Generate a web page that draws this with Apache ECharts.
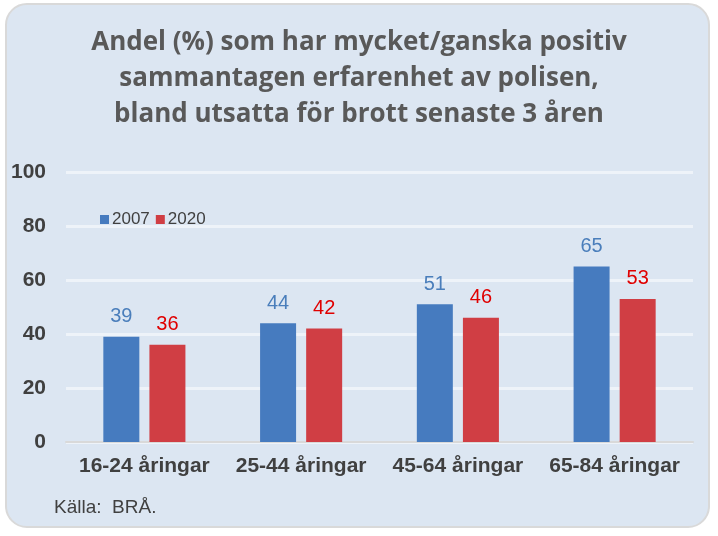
<!DOCTYPE html>
<html><head><meta charset="utf-8">
<script src="https://cdn.jsdelivr.net/npm/echarts@6/dist/echarts.min.js"></script>
<style>
html,body{margin:0;padding:0;background:#fff;}
#frame{position:absolute;left:5px;top:3px;width:705px;height:525px;background:#dce6f2;border:2px solid #d9d9d9;border-radius:22px;box-sizing:border-box;}
#c{position:absolute;left:0;top:0;width:718px;height:536px;}
</style></head>
<body>
<div id="frame"></div>
<div id="c"></div>
<script>
var categories = ['16-24 åringar', '25-44 åringar', '45-64 åringar', '65-84 åringar'];
var seriesNames = ['2007', '2020'];
var values2007 = [39, 44, 51, 65];
var values2020 = [36, 42, 46, 53];
var yTicks = [0, 20, 40, 60, 80, 100];

var chart = echarts.init(document.getElementById('c'), null, {renderer: 'canvas'});
var font = 'Liberation Sans, Arial, sans-serif';
chart.setOption({
  backgroundColor: 'transparent',
  animation: false,
  title: {
    text: 'Andel (%) som har mycket/ganska positiv\nsammantagen erfarenhet av polisen,\nbland utsatta för brott senaste 3 åren',
    left: 'center', top: 20,
    textStyle: {fontFamily: 'Open Sans, sans-serif', fontWeight: 'bold', fontSize: 26, color: '#595959', lineHeight: 36, align: 'center'}
  },
  legend: {
    data: seriesNames, left: 95, top: 206, itemWidth: 9, itemHeight: 9, itemGap: 6,
    icon: 'rect',
    textStyle: {fontFamily: font, fontSize: 17, color: '#404040', padding: [0, 0, 0, -2]}
  },
  grid: {left: 66, right: 25, top: 172, bottom: 94},
  xAxis: {
    type: 'category', data: categories,
    axisTick: {show: false},
    axisLine: {lineStyle: {color: '#d9d9d9', width: 2}},
    axisLabel: {interval: 0, fontFamily: font, fontWeight: 'bold', fontSize: 21, color: '#404040', margin: 14}
  },
  yAxis: {
    type: 'value', min: 0, max: 100, interval: 20,
    axisLine: {show: false}, axisTick: {show: false},
    splitLine: {lineStyle: {color: '#eef3f9', width: 3}},
    axisLabel: {fontFamily: font, fontWeight: 'bold', fontSize: 21, color: '#404040', margin: 20,
      formatter: function (v) { return yTicks.indexOf(v) >= 0 ? String(v) : ''; }}
  },
  graphic: [{
    type: 'text', left: 54, top: 498,
    style: {text: 'Källa:  BRÅ.', font: '19px Liberation Sans, Arial, sans-serif', fill: '#404040'}
  }],
  series: [{
    name: seriesNames[0], type: 'bar', data: values2007, barWidth: 36, barGap: '28%',
    itemStyle: {color: '#467bbf'},
    label: {show: true, position: 'top', distance: 10, fontFamily: font, fontSize: 20, color: '#4a7ebb'}
  }, {
    name: seriesNames[1], type: 'bar', data: values2020, barWidth: 36,
    itemStyle: {color: '#d03e44'},
    label: {show: true, position: 'top', distance: 10, fontFamily: font, fontSize: 20, color: '#e00000'}
  }]
});
</script>
</body></html>
